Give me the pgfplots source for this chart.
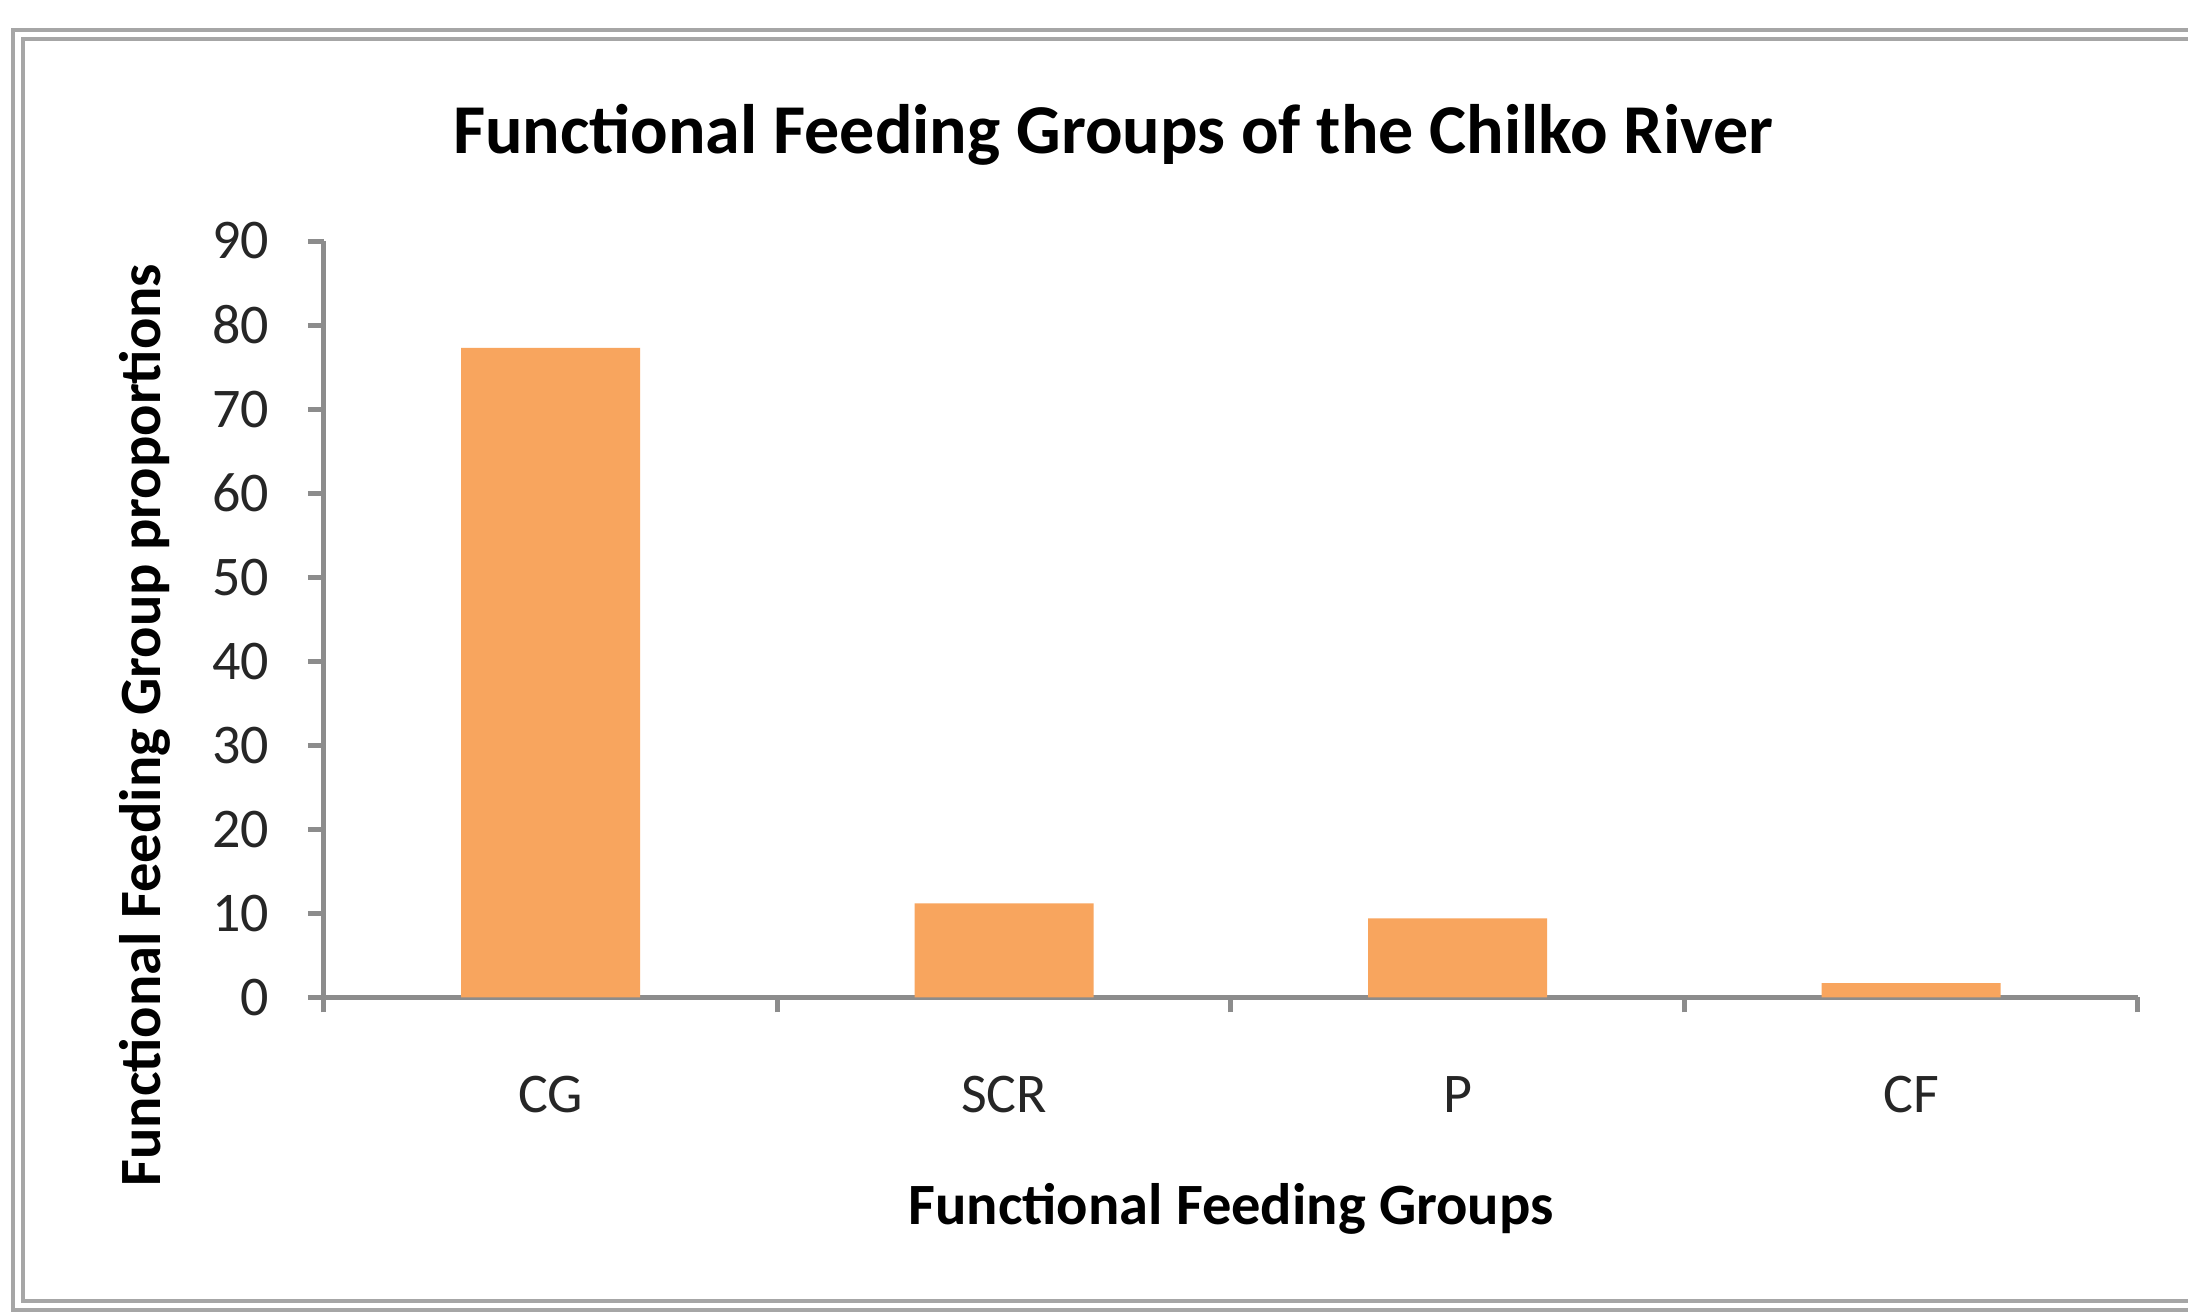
\documentclass[border=0pt]{standalone}
\usepackage{pgfplots}
\pgfplotsset{compat=1.18}
\usepackage{fontspec}
\setmainfont{Carlito}

\definecolor{barorange}{HTML}{F8A55E}
\definecolor{framegray}{HTML}{A6A6A6}
\definecolor{axisgray}{HTML}{8C8C8C}

\begin{document}
\begin{tikzpicture}[x=1pt,y=1pt]
    \useasboundingbox (0,0) rectangle (437.6,262.8);
    \begin{scope}
        \clip (0,0) rectangle (437.6,262.8);
        \fill[white] (0,0) rectangle (437.6,262.8);
        % double grey chart border, right edge is cut off
        \draw[framegray, line width=0.8pt] (2.6,0.8) rectangle (450,256.8);
        \draw[framegray, line width=0.8pt] (4.6,2.6) rectangle (450,255.0);
    \end{scope}
    \begin{axis}[
        at={(64.8pt,63.3pt)}, anchor=south west,
        width=362.8pt, height=151.3pt, scale only axis=true,
        xmin=0.5, xmax=4.5, ymin=0, ymax=90,
        axis x line*=bottom, axis y line*=left,
        axis line style={axisgray, line width=1pt},
        every tick/.style={axisgray, line width=1pt},
        tick align=outside,
        xtick={1,2,3,4}, xticklabels={CG, SCR, P, CF},
        major x tick style={draw=none},
        minor xtick={0.5,1.5,2.5,3.5,4.5},
        minor tick length=3pt, major tick length=3.2pt,
        ytick={0,10,...,90},
        /pgf/number format/assume math mode=true,
        tick label style={font=\fontsize{11.2}{13}\selectfont, text=black!85},
        yticklabel style={xshift=-4.2pt},
        xticklabel style={yshift=-9pt},
        title={Functional Feeding Groups of the Chilko River},
        title style={font=\fontsize{14}{17}\selectfont\bfseries, at={(axis description cs:0.435,1.076)}, anchor=base},
        xlabel={Functional Feeding Groups},
        xlabel style={font=\fontsize{11.7}{14}\selectfont\bfseries, at={(axis description cs:0.5,-0.300)}, anchor=base},
        ylabel={Functional Feeding Group proportions},
        ylabel style={font=\fontsize{11.7}{14}\selectfont\bfseries, at={(axis description cs:-0.0904,0.36)}, anchor=base},
        ybar, bar width=35.8pt,
    ]
    \addplot[fill=barorange, draw=none] coordinates {
        (1, 77.3)
        (2, 11.2)
        (3, 9.4)
        (4, 1.7)
    };
    \end{axis}
\end{tikzpicture}
\end{document}
